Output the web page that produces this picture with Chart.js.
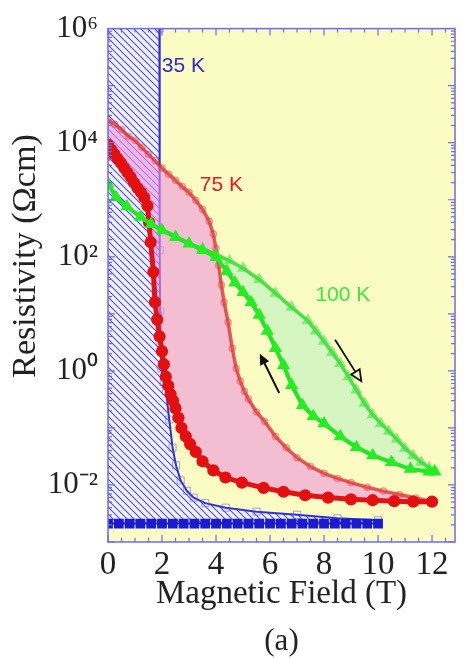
<!DOCTYPE html>
<html>
<head>
<meta charset="utf-8">
<script src="https://cdn.jsdelivr.net/npm/chart.js@4.4.0/dist/chart.umd.min.js"></script>
<style>
  html, body { margin: 0; padding: 0; background: #fff; }
  canvas { display: block; }
</style>
</head>
<body>
<canvas id="chart" width="464" height="659"></canvas>
<script>
// ---- data (field in T, resistivity in Ohm cm) ----
const xTicks = [0, 2, 4, 6, 8, 10, 12];
const yTickValues = [1e-2, 1e0, 1e2, 1e4, 1e6];
const yTickLabels = ['10\u207B\u00B2', '10\u2070', '10\u00B2', '10\u2074', '10\u2076'];

// 35 K, field up (open squares) and field down (filled squares)
const blueUpB = [0, 0.5, 1.0, 1.5, 1.9, 1.91, 1.92, 1.93, 1.95, 1.98, 2.07, 2.15, 2.27, 2.39, 2.52, 2.69, 2.92, 3.17, 3.6, 4.36, 5.5, 7.0, 8.5, 10];
const blueUpR = [1e7, 1e7, 1e7, 1e7, 1e7, 1e6, 130, 11, 3.0, 1.1, 0.63, 0.44, 0.14, 0.045, 0.022, 0.012, 0.0079, 0.006, 0.0048, 0.004, 0.0034, 0.003, 0.0026, 0.0024];
const blueDnB = [0, 0.4, 0.8, 1.2, 1.6, 2.0, 2.4, 2.8, 3.2, 3.6, 4.0, 4.4, 4.8, 5.2, 5.6, 6.0, 6.4, 6.8, 7.2, 7.6, 8.0, 8.4, 8.8, 9.2, 9.6, 10.0];
const blueDnR = [0.0021, 0.0021, 0.0021, 0.0021, 0.0021, 0.0021, 0.0021, 0.0021, 0.0021, 0.0021, 0.0021, 0.0021, 0.0021, 0.0021, 0.0021, 0.0021, 0.0021, 0.0021, 0.0021, 0.0021, 0.0021, 0.0021, 0.0021, 0.0021, 0.0021, 0.0021];

// 75 K
const redUpB = [0, 0.25, 0.5, 0.75, 1.0, 1.25, 1.5, 1.75, 2.0, 2.25, 2.5, 2.75, 3.0, 3.25, 3.5, 3.75, 3.9, 4.0, 4.1, 4.2, 4.3, 4.45, 4.6, 4.75, 4.9, 5.05, 5.2, 5.5, 5.8, 6.2, 6.6, 7.0, 7.5, 8.0, 8.5, 9.0, 9.6, 10.2, 10.8, 11.4, 12.0];
const redUpR = [2.5e4, 2.1e4, 1.7e4, 1.3e4, 1.1e4, 8.3e3, 6.3e3, 4.8e3, 3.6e3, 2.8e3, 2.2e3, 1.7e3, 1.35e3, 980, 680, 420, 250, 140, 71, 32, 16, 7.1, 2.5, 1.1, 0.66, 0.44, 0.32, 0.19, 0.13, 0.071, 0.045, 0.030, 0.021, 0.016, 0.013, 0.011, 0.0091, 0.0078, 0.0068, 0.0059, 0.0051];
const redDnB = [0, 0.12, 0.24, 0.36, 0.48, 0.6, 0.72, 0.84, 0.96, 1.09, 1.22, 1.34, 1.46, 1.52, 1.58, 1.68, 1.74, 1.82, 1.91, 2.0, 2.07, 2.14, 2.23, 2.32, 2.41, 2.5, 2.61, 2.72, 2.88, 3.04, 3.25, 3.5, 3.9, 4.35, 4.96, 5.76, 6.5, 7.3, 8.15, 9.0, 9.8, 10.6, 11.3, 12.0];
const redDnR = [9.3e3, 7.6e3, 6.3e3, 5.2e3, 4.4e3, 3.6e3, 3.0e3, 2.5e3, 2.0e3, 1.6e3, 1.35e3, 1.1e3, 780, 400, 180, 54, 16, 7.9, 4.0, 2.2, 1.3, 0.79, 0.55, 0.39, 0.30, 0.22, 0.15, 0.10, 0.071, 0.052, 0.038, 0.026, 0.018, 0.0135, 0.011, 0.0089, 0.0076, 0.0066, 0.0060, 0.0056, 0.0054, 0.0052, 0.0051, 0.0051];

// 100 K
const greenUpB = [0, 0.3, 0.7, 1.2, 1.6, 2.0, 2.5, 3.0, 3.5, 4.0, 4.5, 5.0, 5.6, 6.2, 6.8, 7.4, 7.7, 8.0, 8.3, 8.6, 8.9, 9.2, 9.5, 9.8, 10.1, 10.4, 10.7, 11.0, 11.3, 11.6, 11.9, 12.1];
const greenUpR = [1.9e3, 1.1e3, 760, 500, 380, 300, 230, 170, 140, 110, 85, 63, 40, 23, 13, 7.6, 5.0, 3.3, 2.1, 1.35, 0.79, 0.46, 0.27, 0.17, 0.12, 0.087, 0.063, 0.044, 0.033, 0.025, 0.020, 0.018];
const greenDnB = [0, 0.3, 0.7, 1.2, 1.6, 2.0, 2.5, 3.0, 3.5, 4.0, 4.4, 4.7, 5.0, 5.3, 5.6, 5.9, 6.2, 6.5, 6.8, 7.2, 7.6, 8.0, 8.6, 9.2, 9.8, 10.5, 11.2, 11.9, 12.1];
const greenDnR = [1.9e3, 1.1e3, 760, 500, 370, 290, 220, 170, 130, 98, 56, 35, 24, 16, 9.5, 5.0, 2.5, 1.26, 0.56, 0.25, 0.16, 0.12, 0.071, 0.046, 0.033, 0.025, 0.019, 0.017, 0.017];

const pts = (b, r) => b.map((v, i) => ({ x: v, y: r[i] }));

// hatch pattern for the 35 K loop
const pc = document.createElement('canvas');
pc.width = 7; pc.height = 7;
const pctx = pc.getContext('2d');
pctx.fillStyle = '#f1f1fb';
pctx.fillRect(0, 0, 7, 7);
pctx.strokeStyle = '#5050d8';
pctx.lineWidth = 1.1;
pctx.beginPath();
pctx.moveTo(-1, -1); pctx.lineTo(8, 8);
pctx.moveTo(-1, 6); pctx.lineTo(1, 8);
pctx.moveTo(6, -1); pctx.lineTo(8, 1);
pctx.stroke();
const hatch = pctx.createPattern(pc, 'repeat');

const SERIF = '"Liberation Serif", "Times New Roman", serif';
const SANS = '"Liberation Sans", Arial, sans-serif';

function arrow(ctx, x1, y1, x2, y2, open) {
  const ang = Math.atan2(y2 - y1, x2 - x1);
  const hl = 11, hw = 5;
  const bx = x2 - hl * Math.cos(ang), by = y2 - hl * Math.sin(ang);
  ctx.beginPath();
  ctx.moveTo(x1, y1);
  ctx.lineTo(open ? bx : x2 - 4 * Math.cos(ang), open ? by : y2 - 4 * Math.sin(ang));
  ctx.stroke();
  ctx.beginPath();
  ctx.moveTo(x2, y2);
  ctx.lineTo(bx + hw * Math.sin(ang), by - hw * Math.cos(ang));
  ctx.lineTo(bx - hw * Math.sin(ang), by + hw * Math.cos(ang));
  ctx.closePath();
  if (open) ctx.stroke(); else ctx.fill();
}

const framePlugin = {
  id: 'frame',
  beforeDraw(chart) {
    const { ctx, chartArea: a } = chart;
    ctx.save();
    ctx.fillStyle = '#fbfbc4';
    ctx.fillRect(a.left, a.top, a.right - a.left, a.bottom - a.top);
    ctx.restore();
  },
  afterDraw(chart) {
    const { ctx, chartArea: a } = chart;
    const xs = chart.scales.x, ys = chart.scales.y;
    ctx.save();
    // frame
    ctx.strokeStyle = '#6c6ce6';
    ctx.lineWidth = 1.5;
    ctx.strokeRect(a.left, a.top, a.right - a.left, a.bottom - a.top);
    // inside ticks
    ctx.lineWidth = 1.2;
    ctx.beginPath();
    for (let v = 0; v <= xs.max; v += 0.5) {
      const px = xs.getPixelForValue(v);
      const len = (v % 2 === 0) ? 7 : 4;
      ctx.moveTo(px, a.bottom); ctx.lineTo(px, a.bottom - len);
      ctx.moveTo(px, a.top); ctx.lineTo(px, a.top + len);
    }
    for (let d = -3; d < 6; d++) {
      for (let k = 1; k < 10; k++) {
        const py = ys.getPixelForValue(k * Math.pow(10, d));
        const len = k === 1 ? 7 : 4;
        ctx.moveTo(a.left, py); ctx.lineTo(a.left + len, py);
        ctx.moveTo(a.right, py); ctx.lineTo(a.right - len, py);
      }
    }
    ctx.stroke();

    // curve labels
    ctx.textBaseline = 'middle';
    ctx.textAlign = 'left';
    ctx.font = '21px ' + SANS;
    ctx.fillStyle = '#2c2cc8';
    ctx.fillText('35 K', xs.getPixelForValue(1.99), ys.getPixelForValue(2.2e5));
    ctx.fillStyle = '#e02020';
    ctx.fillText('75 K', xs.getPixelForValue(3.4), ys.getPixelForValue(1.8e3));
    ctx.fillStyle = '#3fe83f';
    ctx.fillText('100 K', xs.getPixelForValue(7.68), ys.getPixelForValue(21));

    // sweep arrows
    ctx.strokeStyle = '#111';
    ctx.fillStyle = '#111';
    ctx.lineWidth = 2;
    arrow(ctx, xs.getPixelForValue(6.34), ys.getPixelForValue(0.41), xs.getPixelForValue(5.62), ys.getPixelForValue(2.0), false);
    ctx.lineWidth = 1.8;
    arrow(ctx, xs.getPixelForValue(8.41), ys.getPixelForValue(3.5), xs.getPixelForValue(9.38), ys.getPixelForValue(0.66), true);

    // axis titles
    ctx.fillStyle = '#222';
    ctx.textAlign = 'center';
    ctx.textBaseline = 'alphabetic';
    ctx.font = '33px ' + SERIF;
    ctx.fillText('Magnetic Field (T)', (a.left + a.right) / 2, 603);
    ctx.font = '31px ' + SERIF;
    ctx.fillText('(a)', (a.left + a.right) / 2, 650);
    ctx.translate(26, 256);
    ctx.rotate(-Math.PI / 2);
    ctx.textBaseline = 'middle';
    ctx.font = '34px ' + SERIF;
    ctx.fillText('Resistivity (\u03A9cm)', 0, 0);
    ctx.restore();
  }
};

new Chart(document.getElementById('chart').getContext('2d'), {
  type: 'line',
  data: {
    datasets: [
      {
        label: '100 K down',
        data: pts(greenDnB, greenDnR),
        borderColor: '#22e622',
        borderWidth: 4,
        pointStyle: 'triangle',
        pointRadius: 3.5,
        pointBackgroundColor: '#22ee22',
        pointBorderColor: '#22ee22',
        fill: false
      },
      {
        label: '100 K up',
        data: pts(greenUpB, greenUpR),
        borderColor: 'rgba(40,225,40,0.85)',
        borderWidth: 3.5,
        pointStyle: 'triangle',
        pointRadius: 3.5,
        pointBackgroundColor: 'rgba(0,0,0,0)',
        pointBorderColor: 'rgba(70,225,70,0.6)',
        fill: '-1',
        backgroundColor: 'rgba(175,240,190,0.5)'
      },
      {
        label: '75 K down',
        data: pts(redDnB, redDnR),
        borderColor: '#e01414',
        borderWidth: 5,
        pointStyle: 'circle',
        pointRadius: 3.6,
        pointBackgroundColor: '#e41010',
        pointBorderColor: '#e41010',
        fill: false
      },
      {
        label: '75 K up',
        data: pts(redUpB, redUpR),
        borderColor: 'rgba(222,40,40,0.75)',
        borderWidth: 3.5,
        pointStyle: 'circle',
        pointRadius: 3,
        pointBackgroundColor: 'rgba(0,0,0,0)',
        pointBorderColor: 'rgba(230,60,60,0.5)',
        pointBorderWidth: 1.5,
        fill: '-1',
        backgroundColor: 'rgba(240,150,220,0.6)'
      },
      {
        label: '35 K down',
        data: pts(blueDnB, blueDnR),
        borderColor: '#1a1ad0',
        borderWidth: 2,
        pointStyle: 'rect',
        pointRadius: 5.5,
        pointBackgroundColor: '#1a1ad0',
        pointBorderColor: '#1a1ad0',
        fill: false
      },
      {
        label: '35 K up',
        data: pts(blueUpB, blueUpR),
        borderColor: '#3030d8',
        borderWidth: 2,
        pointStyle: 'rect',
        pointRadius: 5,
        pointBackgroundColor: 'rgba(0,0,0,0)',
        pointBorderColor: 'rgba(90,90,220,0.55)',
        pointBorderWidth: 1,
        fill: '-1',
        backgroundColor: hatch
      }
    ]
  },
  options: {
    responsive: false,
    animation: false,
    events: [],
    layout: { padding: { top: 25, right: 2, left: 0, bottom: 0 } },
    plugins: {
      legend: { display: false },
      tooltip: { enabled: false },
      filler: { propagate: false }
    },
    scales: {
      x: {
        type: 'linear',
        min: 0,
        max: 12.85,
        afterBuildTicks: s => { s.ticks = xTicks.map(v => ({ value: v })); },
        afterFit: s => { s.height = 117; },
        grid: { display: false, drawTicks: false },
        border: { display: false },
        ticks: {
          padding: 4,
          color: '#222',
          font: { family: SERIF, size: 33 },
          maxRotation: 0
        }
      },
      y: {
        type: 'logarithmic',
        min: 1e-3,
        max: 1e6,
        afterBuildTicks: s => { s.ticks = yTickValues.map(v => ({ value: v })); },
        afterFit: s => { s.width = 108; },
        grid: { display: false, drawTicks: false },
        border: { display: false },
        ticks: {
          padding: 10,
          color: '#222',
          font: { family: SERIF, size: 31 },
          callback: (v, i) => yTickLabels[i]
        }
      }
    }
  },
  plugins: [framePlugin]
});
</script>
</body>
</html>
